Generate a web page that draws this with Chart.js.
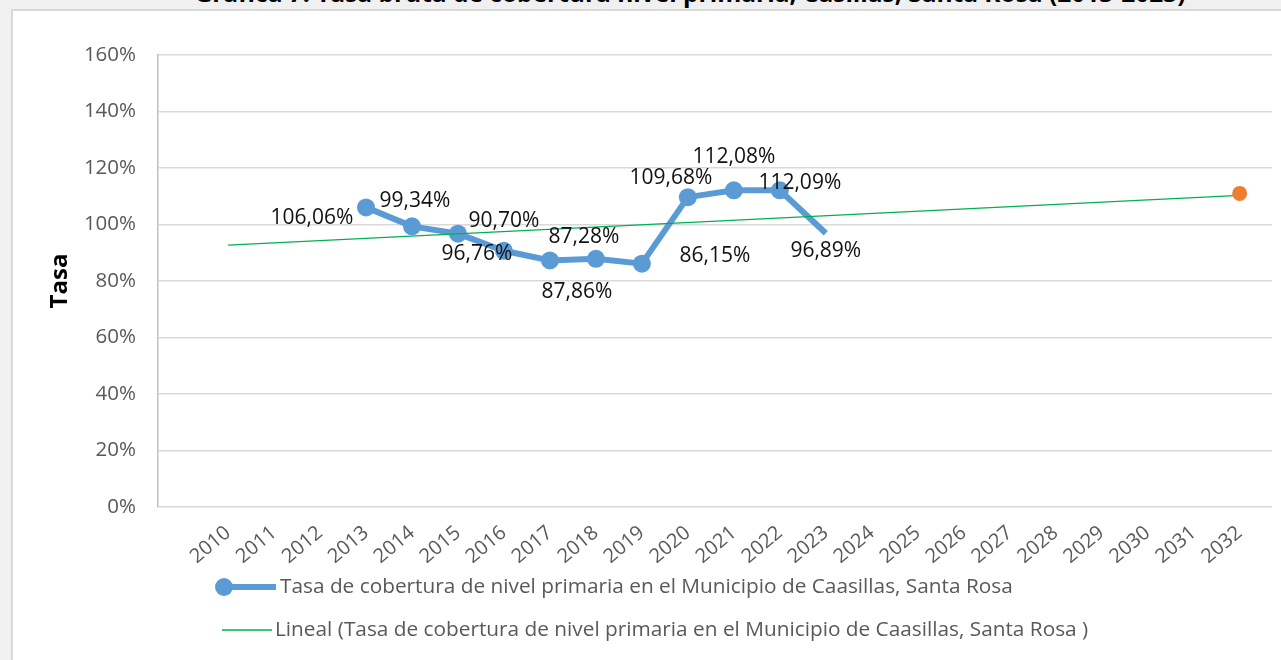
<!DOCTYPE html>
<html>
<head>
<meta charset="utf-8">
<script src="https://cdn.jsdelivr.net/npm/chart.js@4.4.0/dist/chart.umd.min.js"></script>
<style>
  html, body { margin: 0; padding: 0; background: #f0f0f0; overflow: hidden; }
  #wrap { position: relative; width: 1281px; height: 660px; overflow: hidden; }
  #box { position: absolute; left: 11px; top: 9px; width: 1280px; height: 660px; background: #fff;
         border-left: 2px solid #d9d9d9; border-top: 2px solid #d9d9d9; }
  #title { position: absolute; left: 90px; width: 1200px; top: -17.5px; text-align: center;
           font: bold 24.5px "Open Sans", sans-serif; line-height: 20px; color: #000; white-space: nowrap; }
  canvas { position: absolute; left: 0; top: 0; }
</style>
</head>
<body>
<div id="wrap">
  <div id="box"></div>
  <div id="title">Gráfica 7: Tasa bruta de cobertura nivel primaria, Casillas, Santa Rosa (2013-2023)</div>
  <canvas id="chart" width="1281" height="660"></canvas>
</div>
<script>
// tick labels on the x axis
const years = [2010, 2011, 2012, 2013, 2014, 2015, 2016, 2017, 2018, 2019, 2020, 2021,
               2022, 2023, 2024, 2025, 2026, 2027, 2028, 2029, 2030, 2031, 2032];
const yTicks = [0, 20, 40, 60, 80, 100, 120, 140, 160];

// observed coverage rate (%)
const seriesYears = [2013, 2014, 2015, 2016, 2017, 2018, 2019, 2020, 2021, 2022, 2023];
const coverageRates = [106.06, 99.34, 96.76, 90.70, 87.28, 87.86, 86.15, 109.68, 112.08, 112.09, 96.89];

// linear trend, read at both ends of the line
const trendYears = [2010, 2032];
const trendRates = [92.7, 110.3];

// single orange point at the end
const projectionYears = [2032];
const projectionRates = [111.0];

const serieLabel = 'Tasa de cobertura de nivel primaria en el Municipio de Caasillas, Santa Rosa';
const trendLabel = 'Lineal (Tasa de cobertura de nivel primaria en el Municipio de Caasillas, Santa Rosa )';

// where each data label sits relative to its point (dx, dy)
const labelOffsets = [[-54, 11], [3, -25], [19, 20], [0, -30], [34, -23], [-19, 33],
                      [73, -8], [-17, -19], [0, -33], [20, -7], [0, 18]];

const BLUE = '#5b9bd5';
const GREEN = '#00b050';
const ORANGE = '#ed7d31';
const FONT = '"Open Sans", sans-serif';

function formatPct(v) {
    return v.toFixed(2).replace('.', ',') + '%';
}

const dataLabels = {
    id: 'dataLabels',
    afterDatasetsDraw(chart) {
        const ctx = chart.ctx;
        const meta = chart.getDatasetMeta(0);
        ctx.save();
        ctx.font = '21px ' + FONT;
        ctx.fillStyle = '#111';
        ctx.textAlign = 'center';
        ctx.textBaseline = 'middle';
        meta.data.forEach((pt, i) => {
            const off = labelOffsets[i] || [0, -20];
            ctx.fillText(formatPct(coverageRates[i]), pt.x + off[0], pt.y + off[1]);
        });
        ctx.restore();
    }
};

const excelLegend = {
    id: 'excelLegend',
    afterDraw(chart) {
        const ctx = chart.ctx;
        ctx.save();
        ctx.font = '20.8px ' + FONT;
        ctx.fillStyle = '#595959';
        ctx.textBaseline = 'middle';
        ctx.textAlign = 'left';

        // entry 1: thick line with marker
        let y = 587;
        ctx.strokeStyle = BLUE;
        ctx.lineWidth = 6;
        ctx.beginPath();
        ctx.moveTo(224, y);
        ctx.lineTo(276, y);
        ctx.stroke();
        ctx.fillStyle = BLUE;
        ctx.beginPath();
        ctx.arc(224, y, 9, 0, Math.PI * 2);
        ctx.fill();
        ctx.fillStyle = '#595959';
        ctx.fillText(serieLabel, 280, y);

        // entry 2: thin green line
        y = 630;
        ctx.strokeStyle = GREEN;
        ctx.lineWidth = 1.3;
        ctx.beginPath();
        ctx.moveTo(222, y);
        ctx.lineTo(272, y);
        ctx.stroke();
        ctx.fillText(trendLabel, 275, y);
        ctx.restore();
    }
};

new Chart(document.getElementById('chart'), {
    type: 'line',
    data: {
        datasets: [
            {
                label: serieLabel,
                data: seriesYears.map((yr, i) => ({ x: yr, y: coverageRates[i] })),
                borderColor: BLUE,
                backgroundColor: BLUE,
                borderWidth: 6,
                pointRadius: seriesYears.map((yr, i) => i === seriesYears.length - 1 ? 0 : 9),
                pointBorderWidth: 0,
                tension: 0,
                order: 2
            },
            {
                label: trendLabel,
                data: trendYears.map((yr, i) => ({ x: yr, y: trendRates[i] })),
                borderColor: GREEN,
                borderWidth: 1.3,
                pointRadius: 0,
                order: 1
            },
            {
                label: 'Proyección',
                data: projectionYears.map((yr, i) => ({ x: yr, y: projectionRates[i] })),
                backgroundColor: ORANGE,
                borderColor: ORANGE,
                showLine: false,
                pointRadius: 7.5,
                pointBorderWidth: 0,
                order: 0
            }
        ]
    },
    options: {
        responsive: false,
        animation: false,
        devicePixelRatio: 1,
        layout: { padding: { top: 55, left: 0, right: 0, bottom: 0 } },
        plugins: {
            legend: { display: false },
            tooltip: { enabled: false }
        },
        scales: {
            x: {
                type: 'linear',
                min: 2008.476,
                max: 2032.704,
                grid: { display: false },
                border: { display: false },
                afterBuildTicks: (scale) => { scale.ticks = years.map(v => ({ value: v })); },
                afterFit: (scale) => { scale.height = 153; },
                ticks: {
                    autoSkip: false,
                    minRotation: 40,
                    maxRotation: 40,
                    padding: 6,
                    color: '#595959',
                    font: { family: FONT, size: 20 },
                    callback: (v) => String(v)
                }
            },
            y: {
                min: 0,
                max: 160,
                afterBuildTicks: (scale) => { scale.ticks = yTicks.map(v => ({ value: v })); },
                afterFit: (scale) => { scale.width = 158; },
                grid: { color: '#d9d9d9', lineWidth: 1.5, drawTicks: false },
                border: { color: '#bfbfbf', width: 1.5 },
                ticks: {
                    padding: 22,
                    color: '#595959',
                    font: { family: FONT, size: 20.5 },
                    callback: (v) => v + '%'
                },
                title: {
                    display: true,
                    text: 'Tasa',
                    color: '#000',
                    font: { family: FONT, size: 24, weight: 'bold' },
                    padding: { top: 46, bottom: 0 }
                }
            }
        }
    },
    plugins: [dataLabels, excelLegend]
});
</script>
</body>
</html>
